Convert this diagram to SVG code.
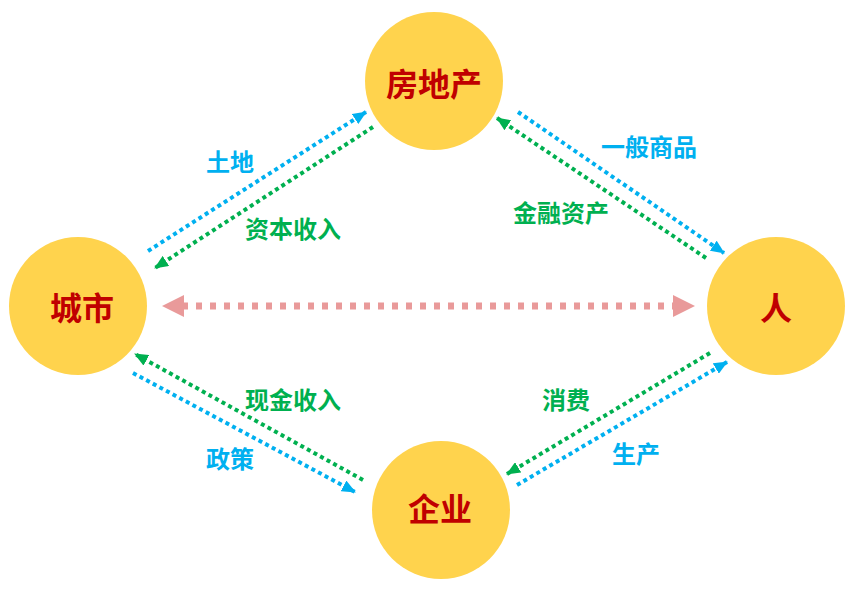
<svg xmlns="http://www.w3.org/2000/svg" width="857" height="594" viewBox="0 0 857 594">
<style>
.node{fill:#FFD34D}
.nt{font-family:"Noto Sans CJK SC","Noto Sans",sans-serif;font-weight:bold;font-size:32px;fill:#C00000;text-anchor:middle;dominant-baseline:central}
.lb{font-family:"Noto Sans CJK SC","Noto Sans",sans-serif;font-weight:bold;font-size:24px;text-anchor:middle;dominant-baseline:central}
.b{fill:#00B0F0}
.g{fill:#00B050}
.lnb{stroke:#00B0F0;stroke-width:4;stroke-dasharray:4 3.5;fill:none}
.lng{stroke:#00B050;stroke-width:4;stroke-dasharray:4 3.5;fill:none}
.lnp{stroke:#E99A9A;stroke-width:7;stroke-dasharray:6 8;fill:none}
</style>
<defs>
<marker id="ab" markerUnits="userSpaceOnUse" markerWidth="14" markerHeight="12" refX="13" refY="6" orient="auto"><path d="M0,0 L14,6 L0,12 Z" fill="#00B0F0"/></marker>
<marker id="ag" markerUnits="userSpaceOnUse" markerWidth="14" markerHeight="12" refX="13" refY="6" orient="auto"><path d="M0,0 L14,6 L0,12 Z" fill="#00B050"/></marker>
</defs>
<g id="connectors">
<line class="lnb" x1="148" y1="251" x2="366" y2="112" marker-end="url(#ab)"/>
<line class="lng" x1="373" y1="127" x2="155" y2="268" marker-end="url(#ag)"/>
<line class="lnb" x1="518" y1="112" x2="724" y2="253" marker-end="url(#ab)"/>
<line class="lng" x1="706" y1="258" x2="497" y2="118" marker-end="url(#ag)"/>
<line class="lng" x1="363" y1="480" x2="135" y2="354" marker-end="url(#ag)"/>
<line class="lnb" x1="133" y1="373" x2="355" y2="492" marker-end="url(#ab)"/>
<line class="lng" x1="710" y1="353" x2="507" y2="474" marker-end="url(#ag)"/>
<line class="lnb" x1="517" y1="485" x2="727" y2="362" marker-end="url(#ab)"/>
<line class="lnp" x1="182" y1="306" x2="675" y2="306"/>
<path d="M162,306 L184,295 L184,317 Z" fill="#E99A9A"/>
<path d="M695,306 L673,295 L673,317 Z" fill="#E99A9A"/>
<text class="lb b" x="230" y="160">土地</text>
<text class="lb g" x="293" y="227">资本收入</text>
<text class="lb b" x="649" y="145">一般商品</text>
<text class="lb g" x="561" y="211">金融资产</text>
<text class="lb g" x="293" y="398">现金收入</text>
<text class="lb b" x="230" y="457">政策</text>
<text class="lb g" x="566" y="398">消费</text>
<text class="lb b" x="636" y="452">生产</text>
</g>
<g id="node-fangdichan"><circle class="node" cx="434" cy="81" r="69"/><text class="nt" x="434" y="82">房地产</text></g>
<g id="node-chengshi"><circle class="node" cx="78" cy="306" r="69"/><text class="nt" x="82" y="306">城市</text></g>
<g id="node-ren"><circle class="node" cx="776" cy="306" r="69"/><text class="nt" x="776" y="306">人</text></g>
<g id="node-qiye"><circle class="node" cx="441" cy="510" r="69"/><text class="nt" x="440" y="507">企业</text></g>
</svg>
